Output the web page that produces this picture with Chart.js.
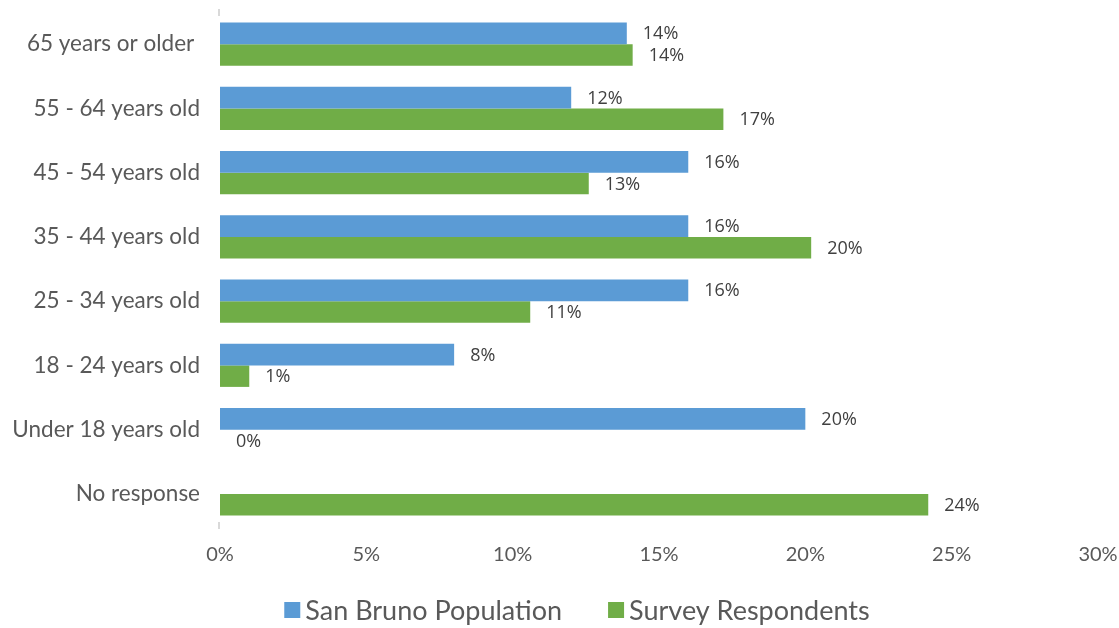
<!DOCTYPE html>
<html><head><meta charset="utf-8">
<script src="https://cdn.jsdelivr.net/npm/chart.js@4"></script>
<style>html,body{margin:0;padding:0;background:#fff}#wrap{width:1119px;height:628px}</style>
</head><body><div id="wrap"><canvas id="c"></canvas></div>
<script>
const categories = ["65 years or older ", "55 - 64 years old", "45 - 54 years old", "35 - 44 years old", "25 - 34 years old", "18 - 24 years old", "Under 18 years old", "No response"];
const sanBruno = [13.9, 12.0, 16.0, 16.0, 16.0, 8.0, 20.0, null];
const survey = [14.1, 17.2, 12.6, 20.2, 10.6, 1.0, 0.0, 24.2];
const seriesNames = ["San Bruno Population", "Survey Respondents"];
const seriesColors = ["#5B9BD5", "#70AD47"];
const xTicks = [0, 5, 10, 15, 20, 25, 30];

const labelPlugin = {
  id: 'barLabels',
  afterDatasetsDraw(chart) {
    const ctx = chart.ctx;
    ctx.save();
    ctx.font = '18px "Open Sans", sans-serif';
    ctx.fillStyle = '#404040';
    ctx.textAlign = 'left';
    ctx.textBaseline = 'middle';
    chart.data.datasets.forEach((ds, i) => {
      const meta = chart.getDatasetMeta(i);
      meta.data.forEach((el, j) => {
        const v = ds.data[j];
        if (v === null || v === undefined) return;
        ctx.fillText(Math.round(v) + '%', el.x + 16, el.y + 1);
      });
    });
    // small axis stubs
    const a = chart.chartArea;
    ctx.strokeStyle = '#d9d9d9';
    ctx.lineWidth = 2;
    ctx.beginPath();
    ctx.moveTo(a.left - 1, a.top - 3); ctx.lineTo(a.left - 1, a.top + 4);
    ctx.moveTo(a.left - 1, a.bottom - 4); ctx.lineTo(a.left - 1, a.bottom + 3);
    ctx.stroke();
    // legend
    ctx.font = '27px Lato, sans-serif';
    ctx.textBaseline = 'middle';
    const items = chart.data.datasets.map(d => ({ text: d.label, color: d.backgroundColor }));
    const box = 16, gapBoxText = 5, gapItems = 46;
    let total = 0;
    items.forEach((it, k) => { it.w = ctx.measureText(it.text).width; total += box + gapBoxText + it.w + (k ? gapItems : 0); });
    let x = 577 - total / 2;
    const y = 610;
    items.forEach(it => {
      ctx.fillStyle = it.color;
      ctx.fillRect(x, y - box / 2, box, box);
      x += box + gapBoxText;
      ctx.fillStyle = '#595959';
      ctx.fillText(it.text, x, y + 1);
      x += it.w + gapItems;
    });
    ctx.restore();
  }
};

new Chart(document.getElementById('c'), {
  type: 'bar',
  data: {
    labels: categories,
    datasets: [
      { label: seriesNames[0], data: sanBruno, backgroundColor: seriesColors[0], borderWidth: 0 },
      { label: seriesNames[1], data: survey, backgroundColor: seriesColors[1], borderWidth: 0 }
    ]
  },
  options: {
    indexAxis: 'y',
    responsive: true,
    maintainAspectRatio: false,
    animation: false,
    devicePixelRatio: 1,
    layout: { padding: { top: 12, right: 0, left: 0, bottom: 52 } },
    datasets: { bar: { categoryPercentage: 0.67, barPercentage: 1.0 } },
    scales: {
      x: {
        min: 0, max: 30,
        afterBuildTicks(s) { s.ticks = xTicks.map(v => ({ value: v })); },
        grid: { display: false, drawTicks: false },
        border: { display: false },
        ticks: { color: '#595959', font: { family: 'Lato', size: 20 }, padding: 17, callback: v => v + '%' },
        afterFit(s) { s.height = 50; s.paddingLeft = 0; s.paddingRight = 21; }
      },
      y: {
        grid: { display: false, drawTicks: false },
        border: { display: false },
        ticks: { color: '#595959', font: { family: 'Lato', size: 22.5 }, padding: 20 },
        afterFit(s) { s.width = 220; s.paddingTop = 0; s.paddingBottom = 0; }
      }
    },
    plugins: {
      legend: { display: false },
      tooltip: { enabled: false }
    }
  },
  plugins: [labelPlugin]
});
</script></body></html>
